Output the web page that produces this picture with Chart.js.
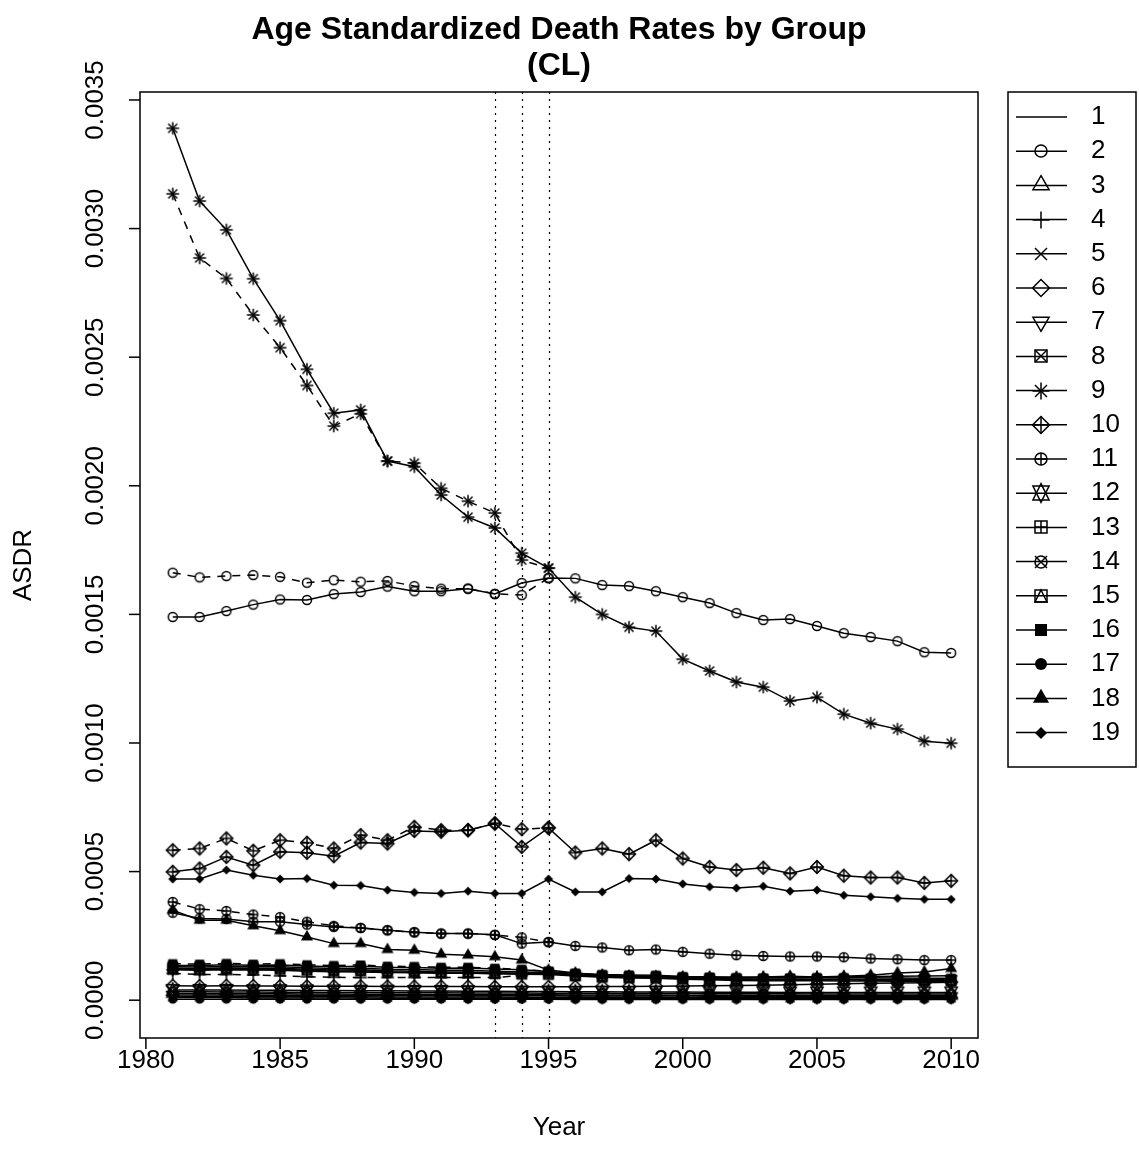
<!DOCTYPE html>
<html>
<head>
<meta charset="utf-8">
<title>Age Standardized Death Rates by Group</title>
<script src="https://cdn.jsdelivr.net/npm/chart.js@4.4.1/dist/chart.umd.min.js"></script>
<style>
  html, body { margin: 0; padding: 0; background: #fff; }
  canvas { display: block; }
</style>
</head>
<body>
<canvas id="asdr" width="1139" height="1174"></canvas>
<script>
// years on the x axis
const years = [1981, 1982, 1983, 1984, 1985, 1986, 1987, 1988, 1989, 1990,
               1991, 1992, 1993, 1994, 1995, 1996, 1997, 1998, 1999, 2000,
               2001, 2002, 2003, 2004, 2005, 2006, 2007, 2008, 2009, 2010];
// the older series only runs up to 1995
const yearsOld = [1981, 1982, 1983, 1984, 1985, 1986, 1987, 1988, 1989, 1990,
                  1991, 1992, 1993, 1994, 1995];

const xTicks = [1980, 1985, 1990, 1995, 2000, 2005, 2010];
const yTicks = [0, 0.0005, 0.001, 0.0015, 0.002, 0.0025, 0.003, 0.0035];
const breakYears = [1993, 1994, 1995];
const groups = ['1', '2', '3', '4', '5', '6', '7', '8', '9', '10',
                '11', '12', '13', '14', '15', '16', '17', '18', '19'];

// ASDR per group, 1981-2010
const g1 = [0.000010, 0.000010, 0.000010, 0.000009, 0.000009, 0.000009, 0.000009, 0.000009, 0.000008, 0.000008,
            0.000008, 0.000008, 0.000008, 0.000008, 0.000008, 0.000008, 0.000007, 0.000007, 0.000007, 0.000007,
            0.000007, 0.000007, 0.000006, 0.000006, 0.000006, 0.000006, 0.000006, 0.000006, 0.000006, 0.000006];
const g2 = [0.001490, 0.001490, 0.001513, 0.001538, 0.001558, 0.001556, 0.001579, 0.001587, 0.001608, 0.001590,
            0.001590, 0.001600, 0.001579, 0.001622, 0.001641, 0.001640, 0.001614, 0.001610, 0.001590, 0.001567,
            0.001544, 0.001505, 0.001478, 0.001482, 0.001455, 0.001427, 0.001412, 0.001396, 0.001353, 0.001350];
const g3 = [0.000026, 0.000026, 0.000025, 0.000025, 0.000025, 0.000024, 0.000024, 0.000023, 0.000023, 0.000022,
            0.000022, 0.000022, 0.000021, 0.000021, 0.000021, 0.000020, 0.000020, 0.000020, 0.000020, 0.000019,
            0.000019, 0.000019, 0.000019, 0.000019, 0.000018, 0.000018, 0.000018, 0.000018, 0.000018, 0.000018];
const g4 = [0.000118, 0.000116, 0.000118, 0.000117, 0.000116, 0.000113, 0.000111, 0.000110, 0.000108, 0.000107,
            0.000105, 0.000105, 0.000104, 0.000104, 0.000107, 0.000098, 0.000096, 0.000094, 0.000093, 0.000091,
            0.000090, 0.000089, 0.000089, 0.000089, 0.000090, 0.000091, 0.000092, 0.000093, 0.000094, 0.000095];
const g5 = [0.000014, 0.000014, 0.000014, 0.000013, 0.000013, 0.000013, 0.000013, 0.000013, 0.000012, 0.000012,
            0.000012, 0.000012, 0.000012, 0.000011, 0.000011, 0.000011, 0.000011, 0.000011, 0.000011, 0.000010,
            0.000010, 0.000010, 0.000010, 0.000010, 0.000010, 0.000010, 0.000010, 0.000010, 0.000010, 0.000010];
const g6 = [0.000056, 0.000055, 0.000056, 0.000055, 0.000055, 0.000054, 0.000054, 0.000054, 0.000053, 0.000053,
            0.000053, 0.000053, 0.000052, 0.000052, 0.000052, 0.000052, 0.000053, 0.000053, 0.000054, 0.000055,
            0.000056, 0.000057, 0.000058, 0.000060, 0.000062, 0.000064, 0.000066, 0.000067, 0.000068, 0.000070];
const g7 = [0.000020, 0.000020, 0.000020, 0.000019, 0.000019, 0.000019, 0.000019, 0.000018, 0.000018, 0.000018,
            0.000018, 0.000017, 0.000017, 0.000017, 0.000017, 0.000016, 0.000016, 0.000016, 0.000016, 0.000016,
            0.000015, 0.000015, 0.000015, 0.000015, 0.000015, 0.000015, 0.000015, 0.000015, 0.000015, 0.000015];
const g8 = [0.000130, 0.000129, 0.000131, 0.000130, 0.000130, 0.000126, 0.000123, 0.000124, 0.000120, 0.000119,
            0.000116, 0.000116, 0.000113, 0.000110, 0.000108, 0.000100, 0.000095, 0.000092, 0.000091, 0.000087,
            0.000085, 0.000083, 0.000082, 0.000082, 0.000082, 0.000082, 0.000081, 0.000081, 0.000080, 0.000080];
const g9 = [0.003390, 0.003107, 0.002995, 0.002805, 0.002642, 0.002453, 0.002282, 0.002295, 0.002096, 0.002074,
            0.001964, 0.001878, 0.001836, 0.001738, 0.001680, 0.001567, 0.001500, 0.001450, 0.001435, 0.001326,
            0.001280, 0.001237, 0.001217, 0.001163, 0.001178, 0.001112, 0.001077, 0.001054, 0.001007, 0.000999];
const g10 = [0.000499, 0.000512, 0.000557, 0.000525, 0.000577, 0.000573, 0.000560, 0.000613, 0.000609, 0.000658,
             0.000655, 0.000661, 0.000687, 0.000596, 0.000670, 0.000574, 0.000590, 0.000568, 0.000622, 0.000551,
             0.000518, 0.000506, 0.000515, 0.000493, 0.000518, 0.000484, 0.000477, 0.000477, 0.000456, 0.000464];
const g11 = [0.000340, 0.000318, 0.000316, 0.000305, 0.000305, 0.000294, 0.000285, 0.000281, 0.000272, 0.000264,
             0.000259, 0.000259, 0.000254, 0.000220, 0.000226, 0.000211, 0.000205, 0.000194, 0.000197, 0.000188,
             0.000181, 0.000175, 0.000172, 0.000170, 0.000170, 0.000167, 0.000162, 0.000159, 0.000156, 0.000156];
const g12 = [0.000040, 0.000040, 0.000040, 0.000039, 0.000039, 0.000038, 0.000038, 0.000037, 0.000037, 0.000036,
             0.000036, 0.000035, 0.000035, 0.000034, 0.000034, 0.000033, 0.000033, 0.000032, 0.000032, 0.000032,
             0.000031, 0.000031, 0.000031, 0.000030, 0.000030, 0.000030, 0.000030, 0.000030, 0.000030, 0.000030];
const g13 = [0.000124, 0.000123, 0.000125, 0.000124, 0.000124, 0.000120, 0.000117, 0.000118, 0.000114, 0.000113,
             0.000110, 0.000110, 0.000107, 0.000105, 0.000104, 0.000097, 0.000092, 0.000089, 0.000088, 0.000084,
             0.000082, 0.000080, 0.000079, 0.000079, 0.000079, 0.000079, 0.000078, 0.000078, 0.000078, 0.000078];
const g14 = [0.000033, 0.000033, 0.000032, 0.000032, 0.000031, 0.000031, 0.000030, 0.000030, 0.000029, 0.000029,
             0.000029, 0.000028, 0.000028, 0.000028, 0.000027, 0.000027, 0.000027, 0.000026, 0.000026, 0.000026,
             0.000025, 0.000025, 0.000025, 0.000025, 0.000024, 0.000024, 0.000024, 0.000024, 0.000024, 0.000024];
const g15 = [0.000120, 0.000119, 0.000121, 0.000120, 0.000120, 0.000116, 0.000113, 0.000114, 0.000110, 0.000109,
             0.000106, 0.000106, 0.000103, 0.000101, 0.000100, 0.000094, 0.000089, 0.000086, 0.000085, 0.000081,
             0.000079, 0.000077, 0.000076, 0.000076, 0.000076, 0.000075, 0.000075, 0.000074, 0.000074, 0.000074];
const g16 = [0.000135, 0.000135, 0.000138, 0.000136, 0.000137, 0.000133, 0.000130, 0.000132, 0.000128, 0.000127,
             0.000124, 0.000125, 0.000121, 0.000118, 0.000112, 0.000105, 0.000100, 0.000098, 0.000097, 0.000092,
             0.000090, 0.000088, 0.000087, 0.000087, 0.000088, 0.000088, 0.000087, 0.000086, 0.000085, 0.000085];
const g17 = [0.000004, 0.000004, 0.000004, 0.000004, 0.000004, 0.000004, 0.000004, 0.000004, 0.000004, 0.000004,
             0.000004, 0.000004, 0.000004, 0.000004, 0.000004, 0.000003, 0.000003, 0.000003, 0.000003, 0.000003,
             0.000003, 0.000003, 0.000003, 0.000003, 0.000003, 0.000003, 0.000003, 0.000003, 0.000003, 0.000003];
const g18 = [0.000350, 0.000311, 0.000311, 0.000289, 0.000270, 0.000246, 0.000220, 0.000220, 0.000197, 0.000194,
             0.000179, 0.000175, 0.000169, 0.000156, 0.000117, 0.000106, 0.000097, 0.000093, 0.000090, 0.000088,
             0.000088, 0.000088, 0.000090, 0.000093, 0.000090, 0.000093, 0.000097, 0.000106, 0.000110, 0.000123];
const g19 = [0.000471, 0.000471, 0.000506, 0.000486, 0.000471, 0.000473, 0.000447, 0.000446, 0.000428, 0.000419,
             0.000415, 0.000424, 0.000415, 0.000415, 0.000471, 0.000421, 0.000421, 0.000473, 0.000471, 0.000452,
             0.000441, 0.000436, 0.000443, 0.000424, 0.000428, 0.000408, 0.000402, 0.000396, 0.000392, 0.000392];

// older estimates, 1981-1995 (dashed)
const old2 = [0.001662, 0.001644, 0.001649, 0.001653, 0.001646, 0.001623, 0.001633, 0.001627, 0.001630, 0.001610,
              0.001600, 0.001600, 0.001580, 0.001575, 0.001641];
const old4 = [0.000104, 0.000100, 0.000100, 0.000098, 0.000095, 0.000091, 0.000089, 0.000088, 0.000088, 0.000088,
              0.000088, 0.000088, 0.000088, 0.000096, 0.000107];
const old9 = [0.003135, 0.002886, 0.002806, 0.002664, 0.002537, 0.002390, 0.002232, 0.002280, 0.002096, 0.002088,
              0.001990, 0.001940, 0.001894, 0.001711, 0.001680];
const old10 = [0.000583, 0.000590, 0.000629, 0.000581, 0.000622, 0.000612, 0.000590, 0.000642, 0.000622, 0.000674,
               0.000661, 0.000661, 0.000687, 0.000665, 0.000670];
const old11 = [0.000382, 0.000354, 0.000347, 0.000333, 0.000323, 0.000305, 0.000289, 0.000281, 0.000272, 0.000264,
               0.000259, 0.000259, 0.000254, 0.000244, 0.000226];
const old16 = [0.000142, 0.000140, 0.000143, 0.000140, 0.000142, 0.000138, 0.000135, 0.000137, 0.000132, 0.000131,
               0.000128, 0.000128, 0.000124, 0.000120, 0.000112];

const current = [g1, g2, g3, g4, g5, g6, g7, g8, g9, g10, g11, g12, g13, g14, g15, g16, g17, g18, g19];
const older = { 2: old2, 4: old4, 9: old9, 10: old10, 11: old11, 16: old16 };

const FONT = '"Liberation Sans", Arial, Helvetica, sans-serif';
const LW = 1.5;

// R style plotting symbols (pch 1..18), drawn into small canvases
const TRC0 = 1.55512030155621416073, TRC1 = 1.34677368708859836060, TRC2 = 0.77756015077810708036;
function makeSymbol(pch, r) {
  const size = Math.ceil(r * 4) + 4;
  const cv = document.createElement('canvas');
  cv.width = size; cv.height = size;
  const c = cv.getContext('2d');
  const m = size / 2;
  c.strokeStyle = '#000'; c.fillStyle = '#000'; c.lineWidth = LW;
  const line = (x1, y1, x2, y2) => { c.beginPath(); c.moveTo(m + x1, m + y1); c.lineTo(m + x2, m + y2); c.stroke(); };
  const poly = (pts, fill) => {
    c.beginPath(); c.moveTo(m + pts[0][0], m + pts[0][1]);
    for (let i = 1; i < pts.length; i++) c.lineTo(m + pts[i][0], m + pts[i][1]);
    c.closePath(); fill ? c.fill() : c.stroke();
  };
  const circle = (rad, fill) => { c.beginPath(); c.arc(m, m, rad, 0, Math.PI * 2); fill ? c.fill() : c.stroke(); };
  const plus = d => { line(-d, 0, d, 0); line(0, -d, 0, d); };
  const cross = d => { line(-d, -d, d, d); line(-d, d, d, -d); };
  const tri = (up) => {
    const R = TRC0 * r, yc = TRC2 * r, xc = TRC1 * r, s = up ? 1 : -1;
    return [[0, -s * R], [xc, s * yc], [-xc, s * yc]];
  };
  const d2 = Math.SQRT2 * r;
  switch (pch) {
    case 1: circle(r); break;
    case 2: poly(tri(true)); break;
    case 3: plus(d2); break;
    case 4: cross(r); break;
    case 5: poly([[-d2, 0], [0, -d2], [d2, 0], [0, d2]]); break;
    case 6: poly(tri(false)); break;
    case 7: c.strokeRect(m - r, m - r, 2 * r, 2 * r); cross(r); break;
    case 8: cross(r); plus(d2); break;
    case 9: poly([[-d2, 0], [0, -d2], [d2, 0], [0, d2]]); plus(d2); break;
    case 10: circle(r); plus(r); break;
    case 11: {
      const R = TRC0 * r, yc = 0.5 * (TRC2 * r + R), xc = TRC1 * r;
      poly([[0, -R], [xc, yc], [-xc, yc]]);
      poly([[0, R], [xc, -yc], [-xc, -yc]]);
      break;
    }
    case 12: c.strokeRect(m - r, m - r, 2 * r, 2 * r); plus(r); break;
    case 13: circle(r); cross(r); break;
    case 14: c.strokeRect(m - r, m - r, 2 * r, 2 * r); poly([[0, -r], [r, r], [-r, r]]); break;
    case 15: c.fillRect(m - r, m - r, 2 * r, 2 * r); break;
    case 16: circle(r, true); break;
    case 17: poly(tri(true), true); break;
    case 18: poly([[-r, 0], [0, -r], [r, 0], [0, r]], true); break;
  }
  return cv;
}

const plotSym = groups.map((g, i) => i === 0 ? null : makeSymbol(i, 4.5));
const legendSym = groups.map((g, i) => i === 0 ? null : makeSymbol(i, 6));

function series(xs, ys, i, dashed) {
  return {
    label: groups[i] + (dashed ? ' (old)' : ''),
    data: xs.map((x, k) => ({ x: x, y: ys[k] })),
    borderColor: '#000',
    backgroundColor: '#000',
    borderWidth: LW,
    borderDash: dashed ? [8, 7] : [],
    pointStyle: plotSym[i] || 'circle',
    pointRadius: plotSym[i] ? 4 : 0,
    pointHoverRadius: 0,
    tension: 0,
    fill: false
  };
}

const datasets = [];
current.forEach((vals, i) => datasets.push(series(years, vals, i, false)));
Object.keys(older).forEach(k => datasets.push(series(yearsOld, older[k], Number(k) - 1, true)));

// box, axes, titles, break lines and legend in R base-graphics style
const rFrame = {
  id: 'rFrame',
  beforeDatasetsDraw(chart) {
    const { ctx, chartArea: a, scales: { x } } = chart;
    ctx.save();
    ctx.strokeStyle = '#000';
    ctx.lineWidth = 1.2;
    ctx.setLineDash([2, 5]);
    breakYears.forEach(yr => {
      const px = Math.round(x.getPixelForValue(yr)) + 0.5;
      ctx.beginPath(); ctx.moveTo(px, a.top); ctx.lineTo(px, a.bottom); ctx.stroke();
    });
    ctx.restore();
  },
  afterDraw(chart) {
    const { ctx, chartArea: a, scales: { x, y } } = chart;
    ctx.save();
    ctx.strokeStyle = '#000';
    ctx.fillStyle = '#000';
    ctx.lineWidth = LW;
    ctx.strokeRect(a.left, a.top, a.right - a.left, a.bottom - a.top);

    // x axis
    ctx.font = '26px ' + FONT;
    ctx.textAlign = 'center';
    ctx.textBaseline = 'middle';
    xTicks.forEach(t => {
      const px = x.getPixelForValue(t);
      ctx.beginPath(); ctx.moveTo(px, a.bottom); ctx.lineTo(px, a.bottom + 11); ctx.stroke();
      ctx.fillText(String(t), px, a.bottom + 23);
    });
    // y axis, labels turned like R's las = 0
    yTicks.forEach(t => {
      const py = y.getPixelForValue(t);
      ctx.beginPath(); ctx.moveTo(a.left, py); ctx.lineTo(a.left - 11, py); ctx.stroke();
      ctx.save();
      ctx.translate(a.left - 44, py);
      ctx.rotate(-Math.PI / 2);
      ctx.fillText(t.toFixed(4), 0, 0);
      ctx.restore();
    });

    ctx.fillText('Year', (a.left + a.right) / 2, 1128);
    ctx.save();
    ctx.translate(24, (a.top + a.bottom) / 2);
    ctx.rotate(-Math.PI / 2);
    ctx.fillText('ASDR', 0, 0);
    ctx.restore();

    ctx.font = 'bold 32px ' + FONT;
    ctx.fillText('Age Standardized Death Rates by Group', (a.left + a.right) / 2, 30);
    ctx.fillText('(CL)', (a.left + a.right) / 2, 66);

    // legend
    const lx = 1008, ly = 92, lw = 128, lh = 675;
    ctx.strokeRect(lx, ly, lw, lh);
    ctx.font = '26px ' + FONT;
    ctx.textAlign = 'left';
    groups.forEach((g, i) => {
      const ry = ly + 25 + i * 34.2;
      ctx.beginPath(); ctx.moveTo(1016, ry); ctx.lineTo(1067, ry); ctx.stroke();
      const s = legendSym[i];
      if (s) ctx.drawImage(s, Math.round(1041 - s.width / 2), Math.round(ry - s.height / 2));
      ctx.fillText(g, 1091, ry);
    });
    ctx.restore();
  }
};

new Chart(document.getElementById('asdr'), {
  type: 'line',
  data: { datasets: datasets },
  options: {
    responsive: false,
    animation: false,
    devicePixelRatio: 1,
    layout: { padding: { left: 140, top: 92, right: 161, bottom: 136 } },
    plugins: { legend: { display: false }, tooltip: { enabled: false }, title: { display: false } },
    scales: {
      x: { type: 'linear', min: 1979.78, max: 2011.0, display: false },
      y: { type: 'linear', min: -0.000147, max: 0.003531, display: false }
    }
  },
  plugins: [rFrame]
});
</script>
</body>
</html>
